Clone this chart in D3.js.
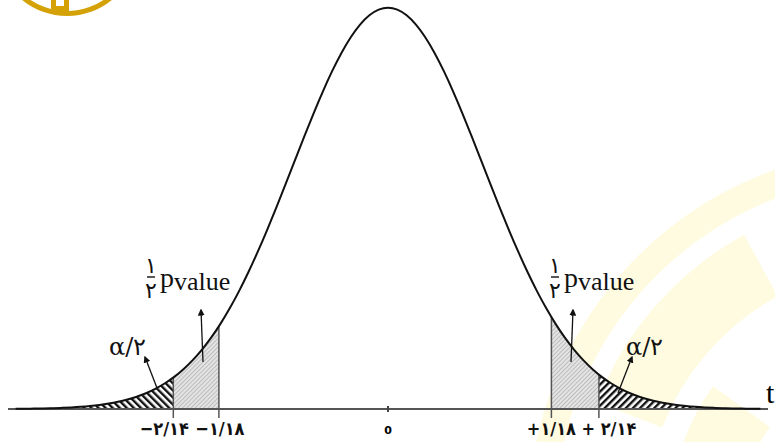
<!DOCTYPE html>
<html>
<head>
<meta charset="utf-8">
<script src="https://cdn.jsdelivr.net/npm/d3@7"></script>
<style>
  html, body { margin: 0; padding: 0; background: #fff; }
  svg { display: block; }
</style>
</head>
<body>
<div id="chart"></div>
<script>
// distribution drawn (schematic t curve, shown as a standard normal)
const distMean = 0;
const distSd = 1;
const curveExtent = [-3.92, 3.92];

// cut points, in the drawn curve's units, and their printed labels
const alphaCuts = [-2.26, 2.22];
const pCuts = [-1.78, 1.72];
const cutValues = [-2.26, -1.78, 1.72, 2.22];
const cutLabels = ["−۲/۱۴", "−۱/۱۸", "+۱/۱۸", "+ ۲/۱۴"];
const zeroLabel = "0";
const axisLabel = "t";

const width = 775, height = 442;

const x = d3.scaleLinear().domain([-4, 4]).range([8, 768]);
const pdf = (z) => Math.exp(-0.5 * ((z - distMean) / distSd) ** 2) / (distSd * Math.sqrt(2 * Math.PI));
const y = d3.scaleLinear().domain([0, pdf(distMean)]).range([409, 7]);

const svg = d3.select("#chart").append("svg")
  .attr("width", width)
  .attr("height", height)
  .attr("viewBox", [0, 0, width, height]);

const defs = svg.append("defs");

// hatches
function hatch(id, dir) {
  const p = defs.append("pattern")
    .attr("id", id)
    .attr("patternUnits", "userSpaceOnUse")
    .attr("width", 5).attr("height", 5)
    .attr("patternTransform", `rotate(${dir * 45})`);
  p.append("rect").attr("width", 5).attr("height", 5).attr("fill", "#fff");
  p.append("rect").attr("x", 0).attr("width", 2.4).attr("height", 5).attr("fill", "#111");
}
hatch("hatchL", -1);
hatch("hatchR", 1);

const dots = defs.append("pattern")
  .attr("id", "dots")
  .attr("patternUnits", "userSpaceOnUse")
  .attr("width", 3).attr("height", 3)
  .attr("patternTransform", "rotate(45)");
dots.append("rect").attr("width", 3).attr("height", 3).attr("fill", "#e4e4e4");
dots.append("rect").attr("width", 1).attr("height", 3).attr("fill", "#bcbcbc");

defs.append("marker")
  .attr("id", "arrow")
  .attr("viewBox", "0 0 10 10")
  .attr("refX", 8).attr("refY", 5)
  .attr("markerWidth", 7).attr("markerHeight", 7)
  .attr("markerUnits", "userSpaceOnUse")
  .attr("orient", "auto")
  .append("path")
  .attr("d", "M0,0L10,5L0,10z")
  .attr("fill", "#111");

// faint watermark
const wm = svg.append("g").attr("fill", "#fffbe0");
wm.append("path")
  .attr("transform", "translate(900,520)")
  .attr("d", d3.arc().innerRadius(345).outerRadius(372).startAngle(-1.55).endAngle(-0.15)());
wm.append("path")
  .attr("transform", "translate(900,520)")
  .attr("d", d3.arc().innerRadius(255).outerRadius(325).startAngle(-1.2).endAngle(-0.5)());
wm.append("path")
  .attr("transform", "translate(900,520)")
  .attr("d", d3.arc().innerRadius(160).outerRadius(230).startAngle(-1.4).endAngle(-0.95)());

// gold logo cut at the top
const logo = svg.append("g").attr("fill", "#d4a106");
logo.append("path")
  .attr("transform", "translate(67,-55)")
  .attr("d", d3.arc().innerRadius(66).outerRadius(71).startAngle(Math.PI * 0.56).endAngle(Math.PI * 1.44)());
logo.append("rect").attr("x", 51).attr("y", 0).attr("width", 18).attr("height", 13);
logo.append("rect").attr("x", 56).attr("y", 0).attr("width", 8).attr("height", 6).attr("fill", "#fff");
logo.append("path")
  .attr("transform", "translate(67,-55)")
  .attr("d", d3.arc().innerRadius(55).outerRadius(63).startAngle(Math.PI * 0.72).endAngle(Math.PI * 0.82)());
logo.append("path")
  .attr("transform", "translate(67,-55)")
  .attr("d", d3.arc().innerRadius(55).outerRadius(63).startAngle(Math.PI * 1.18).endAngle(Math.PI * 1.28)());

const area = d3.area()
  .x((d) => x(d))
  .y0(y(0))
  .y1((d) => y(pdf(d)));

function span(a, b) {
  const n = 80;
  return d3.range(n + 1).map((i) => a + (b - a) * i / n);
}

// shaded regions
svg.append("path").datum(span(curveExtent[0], alphaCuts[0]))
  .attr("d", area).attr("fill", "url(#hatchL)");
svg.append("path").datum(span(alphaCuts[1], curveExtent[1]))
  .attr("d", area).attr("fill", "url(#hatchR)");
svg.append("path").datum(span(alphaCuts[0], pCuts[0]))
  .attr("d", area).attr("fill", "url(#dots)");
svg.append("path").datum(span(pCuts[1], alphaCuts[1]))
  .attr("d", area).attr("fill", "url(#dots)");

// cut lines
svg.append("g").selectAll("line")
  .data(cutValues)
  .join("line")
  .attr("x1", (d) => x(d)).attr("x2", (d) => x(d))
  .attr("y1", (d) => y(pdf(d)))
  .attr("y2", y(0) + 9)
  .attr("stroke", "#555")
  .attr("stroke-width", 1.5);

// axis
svg.append("line")
  .attr("x1", x(-4)).attr("x2", x(4))
  .attr("y1", y(0)).attr("y2", y(0))
  .attr("stroke", "#555")
  .attr("stroke-width", 2);
svg.append("line")
  .attr("x1", x(0)).attr("x2", x(0))
  .attr("y1", y(0) - 3).attr("y2", y(0) + 3)
  .attr("stroke", "#444").attr("stroke-width", 2);

// curve
svg.append("path").datum(span(curveExtent[0], curveExtent[1]))
  .attr("d", d3.line().x((d) => x(d)).y((d) => y(pdf(d))).curve(d3.curveBasis))
  .attr("fill", "none")
  .attr("stroke", "#111")
  .attr("stroke-width", 2);

// tick labels
const labelShift = [-9, 1, 0, 10];
svg.append("g").selectAll("text")
  .data(cutValues)
  .join("text")
  .attr("x", (d, i) => x(d) + labelShift[i])
  .attr("y", 435)
  .attr("text-anchor", "middle")
  .attr("direction", "ltr")
  .style("font-family", "'DejaVu Sans Condensed', 'DejaVu Sans', sans-serif")
  .style("font-weight", "bold")
  .style("font-size", "18px")
  .style("letter-spacing", "-1px")
  .attr("fill", "#111")
  .text((d, i) => cutLabels[i]);

svg.append("text")
  .attr("x", x(0)).attr("y", 434)
  .attr("text-anchor", "middle")
  .style("font-family", "'DejaVu Sans', sans-serif")
  .style("font-weight", "bold")
  .style("font-size", "11px")
  .text(zeroLabel);

svg.append("text")
  .attr("x", 766).attr("y", 403)
  .style("font-family", "'Liberation Serif', serif")
  .style("font-size", "30px")
  .text(axisLabel);

// annotations
function pLabel(px, py) {
  const g = svg.append("g").attr("transform", `translate(${px},${py})`)
    .attr("fill", "#111");
  g.append("text").attr("x", 5).attr("y", -14).attr("text-anchor", "middle")
    .style("font-family", "'DejaVu Sans', sans-serif").style("font-size", "22px").text("۱");
  g.append("line").attr("x1", 1).attr("x2", 9).attr("y1", -10).attr("y2", -10)
    .attr("stroke", "#111").attr("stroke-width", 1.4);
  g.append("text").attr("x", 5).attr("y", 11).attr("text-anchor", "middle")
    .style("font-family", "'DejaVu Sans', sans-serif").style("font-size", "22px").text("۲");
  const t = g.append("text").attr("x", 14).attr("y", 0)
    .style("font-family", "'Liberation Serif', serif");
  t.append("tspan").style("font-size", "28px").text("p");
  t.append("tspan").attr("dy", 3).style("font-size", "26px").text("value");
}
pLabel(146, 287);
pLabel(550, 287);

function alphaLabel(px, py) {
  svg.append("text").attr("x", px).attr("y", py)
    .attr("direction", "ltr")
    .style("font-family", "'DejaVu Serif', serif")
    .style("font-size", "24px")
    .attr("fill", "#111")
    .text("α/۲");
}
alphaLabel(109, 355);
alphaLabel(626, 355);

const arrows = [
  [203, 362, 201, 310],
  [157, 388, 145, 357],
  [571, 362, 573, 310],
  [618, 393, 632, 357],
];
svg.append("g").selectAll("line")
  .data(arrows)
  .join("line")
  .attr("x1", (d) => d[0]).attr("y1", (d) => d[1])
  .attr("x2", (d) => d[2]).attr("y2", (d) => d[3])
  .attr("stroke", "#111")
  .attr("stroke-width", 1.3)
  .attr("marker-end", "url(#arrow)");
</script>
</body>
</html>
